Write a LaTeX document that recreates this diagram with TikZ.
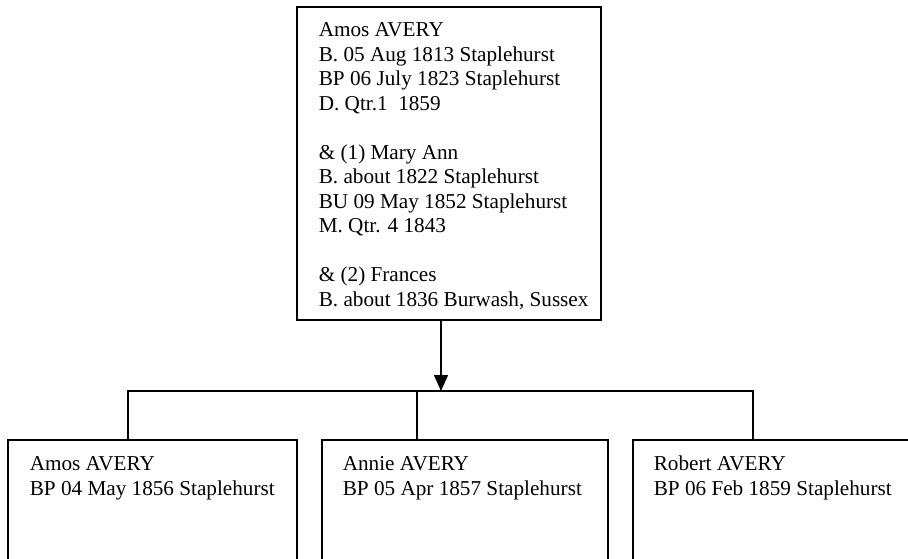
\documentclass[tikz,border=0pt]{standalone}
\usepackage{fontspec}
\setmainfont{Liberation Serif}
\usetikzlibrary{arrows.meta, positioning}

\begin{document}
\begin{tikzpicture}[x=1pt,y=1pt,line width=1.6pt]
  \tikzstyle{person}=[draw,rectangle,anchor=north west,inner sep=0pt,outer sep=0pt]
  \tikzstyle{entry}=[align=left,inner sep=0pt,font=\fontsize{21.2}{24.5}\selectfont]

  \useasboundingbox (0,0) rectangle (908,558);
  \clip (0,0) rectangle (908,558);

  % parent box and its children
  \node[person,minimum width=304pt,minimum height=313pt] (amos)   at (297,551) {};
  \node[person,minimum width=289pt,minimum height=160pt] (amosjr) at (8,118)   {};
  \node[person,minimum width=286pt,minimum height=160pt] (annie)  at (322,118) {};
  \node[person,minimum width=290pt,minimum height=160pt] (robert) at (633,118) {};

  \node[entry,below right=15pt and 21pt of amos.north west] (amos_t)
    {Amos AVERY\\
     B. 05 Aug 1813 Staplehurst\\
     BP 06 July 1823 Staplehurst\\
     D. Qtr.1~~1859\\[24.5pt]
     \& (1) Mary Ann\\
     B. about 1822 Staplehurst\\
     BU 09 May 1852 Staplehurst\\
     M. Qtr. 4 1843\\[24.5pt]
     \& (2) Frances\\
     B. about 1836 Burwash, Sussex};
  \node[entry,below right=16pt and 21pt of amosjr.north west] (amosjr_t)
    {Amos AVERY\\ BP 04 May 1856 Staplehurst};
  \node[entry,below right=16pt and 20pt of annie.north west] (annie_t)
    {Annie AVERY\\ BP 05 Apr 1857 Staplehurst};
  \node[entry,below right=15pt and 20pt of robert.north west] (robert_t)
    {Robert AVERY\\ BP 06 Feb 1859 Staplehurst};

  \coordinate (fork) at (441,167);
  \coordinate (j1)   at (128,167);
  \coordinate (j2)   at (417,167);
  \coordinate (j3)   at (753,167);

  \draw[-{Triangle[width=14pt,length=16pt]}] (amos.south -| fork) -- (fork);
  \draw (amosjr.north -| j1) -- (j1) -- (j3) -- (robert.north -| j3);
  \draw (j2) -- (annie.north -| j2);
\end{tikzpicture}
\end{document}
